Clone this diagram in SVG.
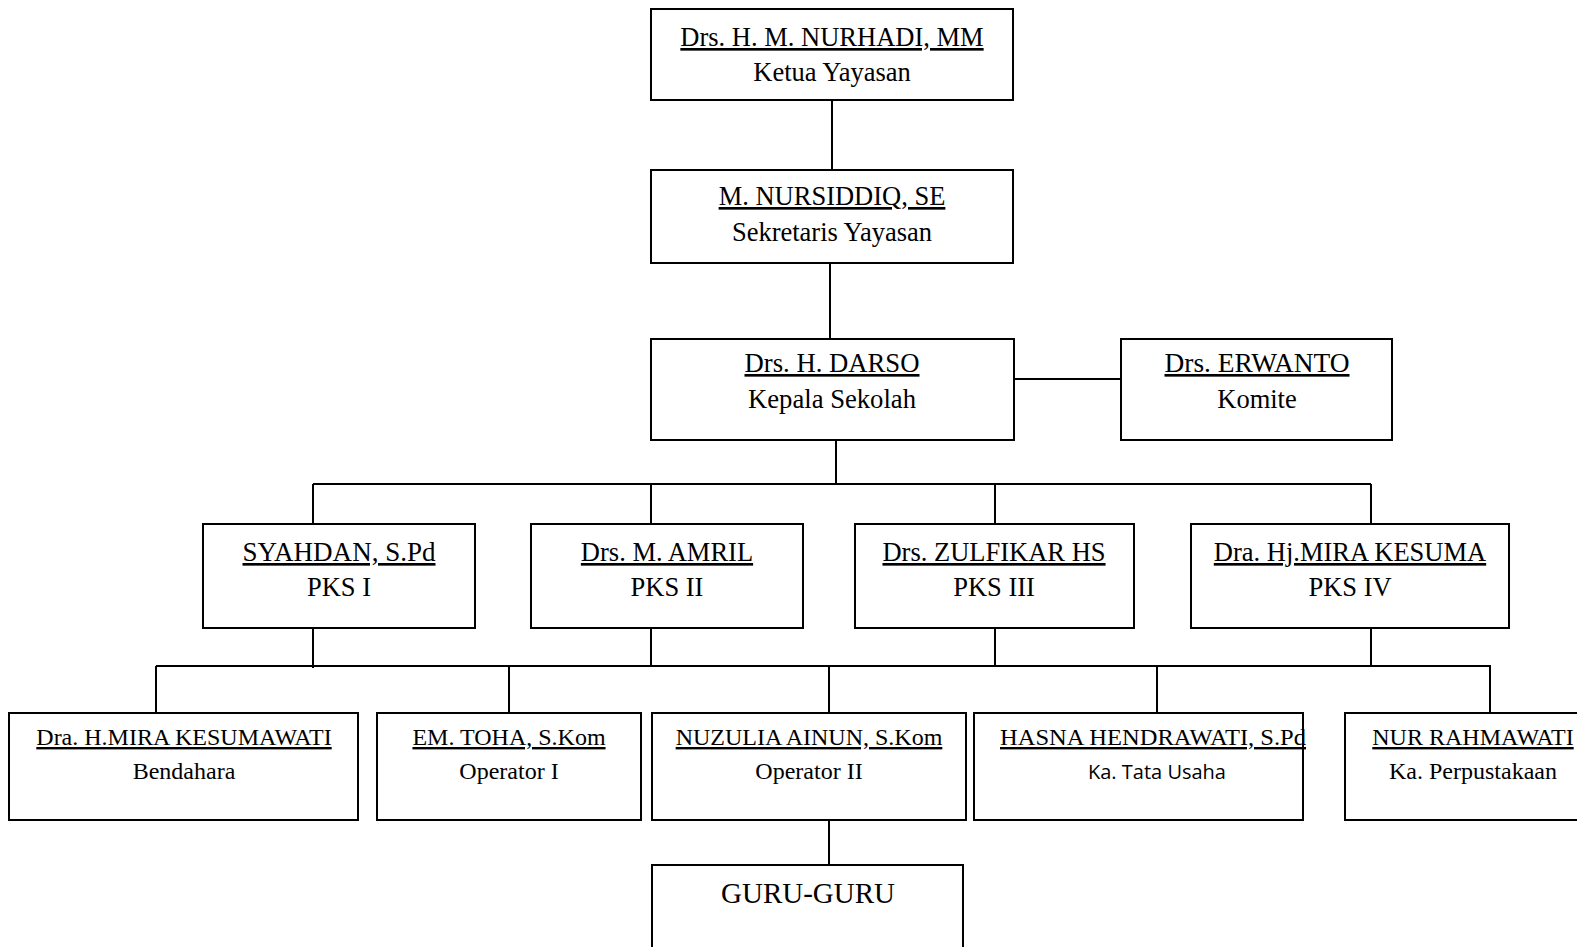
<svg xmlns="http://www.w3.org/2000/svg" width="1577" height="947" viewBox="0 0 1577 947">
<style>
rect{fill:#fff;stroke:#000;stroke-width:2}
.c line{stroke:#000;stroke-width:2}
text{font-family:"Liberation Serif","Times New Roman",serif;fill:#000;text-anchor:middle}
.t{font-size:26.5px}
.b{font-size:24px}
.u{text-decoration:underline}
.s{font-family:"Open Sans","Liberation Sans",sans-serif;font-size:20px}
</style>
<rect x="0" y="0" width="1577" height="947" style="stroke:none"/>
<g class="c">
<line x1="832" y1="100" x2="832" y2="170"/>
<line x1="830" y1="263" x2="830" y2="339"/>
<line x1="1014" y1="379" x2="1121" y2="379"/>
<line x1="836" y1="440" x2="836" y2="484"/>
<line x1="313" y1="484" x2="1371" y2="484"/>
<line x1="313" y1="484" x2="313" y2="524"/>
<line x1="651" y1="484" x2="651" y2="524"/>
<line x1="995" y1="484" x2="995" y2="524"/>
<line x1="1371" y1="484" x2="1371" y2="524"/>
<line x1="313" y1="628" x2="313" y2="668"/>
<line x1="651" y1="628" x2="651" y2="666"/>
<line x1="995" y1="628" x2="995" y2="666"/>
<line x1="1371" y1="628" x2="1371" y2="666"/>
<line x1="156" y1="666" x2="1491" y2="666"/>
<line x1="156" y1="666" x2="156" y2="713"/>
<line x1="509" y1="666" x2="509" y2="713"/>
<line x1="829" y1="666" x2="829" y2="713"/>
<line x1="1157" y1="666" x2="1157" y2="713"/>
<line x1="1490" y1="665" x2="1490" y2="713"/>
<line x1="829" y1="820" x2="829" y2="865"/>
</g>
<g id="ketua">
<rect x="651" y="9" width="362" height="91"/>
<text class="t u" x="832" y="46">Drs. H. M. NURHADI, MM</text>
<text class="t" x="832" y="81">Ketua Yayasan</text>
</g>
<g id="sekretaris">
<rect x="651" y="170" width="362" height="93"/>
<text class="t u" x="832" y="205">M. NURSIDDIQ, SE</text>
<text class="t" x="832" y="241">Sekretaris Yayasan</text>
</g>
<g id="kepala">
<rect x="651" y="339" width="363" height="101"/>
<text class="t u" x="832" y="372" textLength="175" lengthAdjust="spacingAndGlyphs">Drs. H. DARSO</text>
<text class="t" x="832" y="408" textLength="168" lengthAdjust="spacingAndGlyphs">Kepala Sekolah</text>
</g>
<g id="komite">
<rect x="1121" y="339" width="271" height="101"/>
<text class="t u" x="1257" y="372" textLength="185" lengthAdjust="spacingAndGlyphs">Drs. ERWANTO</text>
<text class="t" x="1257" y="408">Komite</text>
</g>
<g id="pks1">
<rect x="203" y="524" width="272" height="104"/>
<text class="t u" x="339" y="561" textLength="193" lengthAdjust="spacingAndGlyphs">SYAHDAN, S.Pd</text>
<text class="t" x="339" y="596">PKS I</text>
</g>
<g id="pks2">
<rect x="531" y="524" width="272" height="104"/>
<text class="t u" x="667" y="561">Drs. M. AMRIL</text>
<text class="t" x="667" y="596">PKS II</text>
</g>
<g id="pks3">
<rect x="855" y="524" width="279" height="104"/>
<text class="t u" x="994" y="561">Drs. ZULFIKAR HS</text>
<text class="t" x="994" y="596">PKS III</text>
</g>
<g id="pks4">
<rect x="1191" y="524" width="318" height="104"/>
<text class="t u" x="1350" y="561">Dra. Hj.MIRA KESUMA</text>
<text class="t" x="1350" y="596">PKS IV</text>
</g>
<g id="bendahara">
<rect x="9" y="713" width="349" height="107"/>
<text class="b u" x="184" y="745">Dra. H.MIRA KESUMAWATI</text>
<text class="b" x="184" y="779">Bendahara</text>
</g>
<g id="operator1">
<rect x="377" y="713" width="264" height="107"/>
<text class="b u" x="509" y="745">EM. TOHA, S.Kom</text>
<text class="b" x="509" y="779">Operator I</text>
</g>
<g id="operator2">
<rect x="652" y="713" width="314" height="107"/>
<text class="b u" x="809" y="745">NUZULIA AINUN, S.Kom</text>
<text class="b" x="809" y="779">Operator II</text>
</g>
<g id="tatausaha">
<rect x="974" y="713" width="329" height="107"/>
<text class="b u" x="1153" y="745" textLength="306" lengthAdjust="spacingAndGlyphs">HASNA HENDRAWATI, S.Pd</text>
<text class="s" x="1157" y="779">Ka. Tata Usaha</text>
</g>
<g id="perpustakaan">
<rect x="1345" y="713" width="260" height="107"/>
<text class="b u" x="1473" y="745">NUR RAHMAWATI</text>
<text class="b" x="1473" y="779">Ka. Perpustakaan</text>
</g>
<g id="guru">
<rect x="652" y="865" width="311" height="100"/>
<text x="808" y="903" style="font-size:29px">GURU-GURU</text>
</g>
</svg>
